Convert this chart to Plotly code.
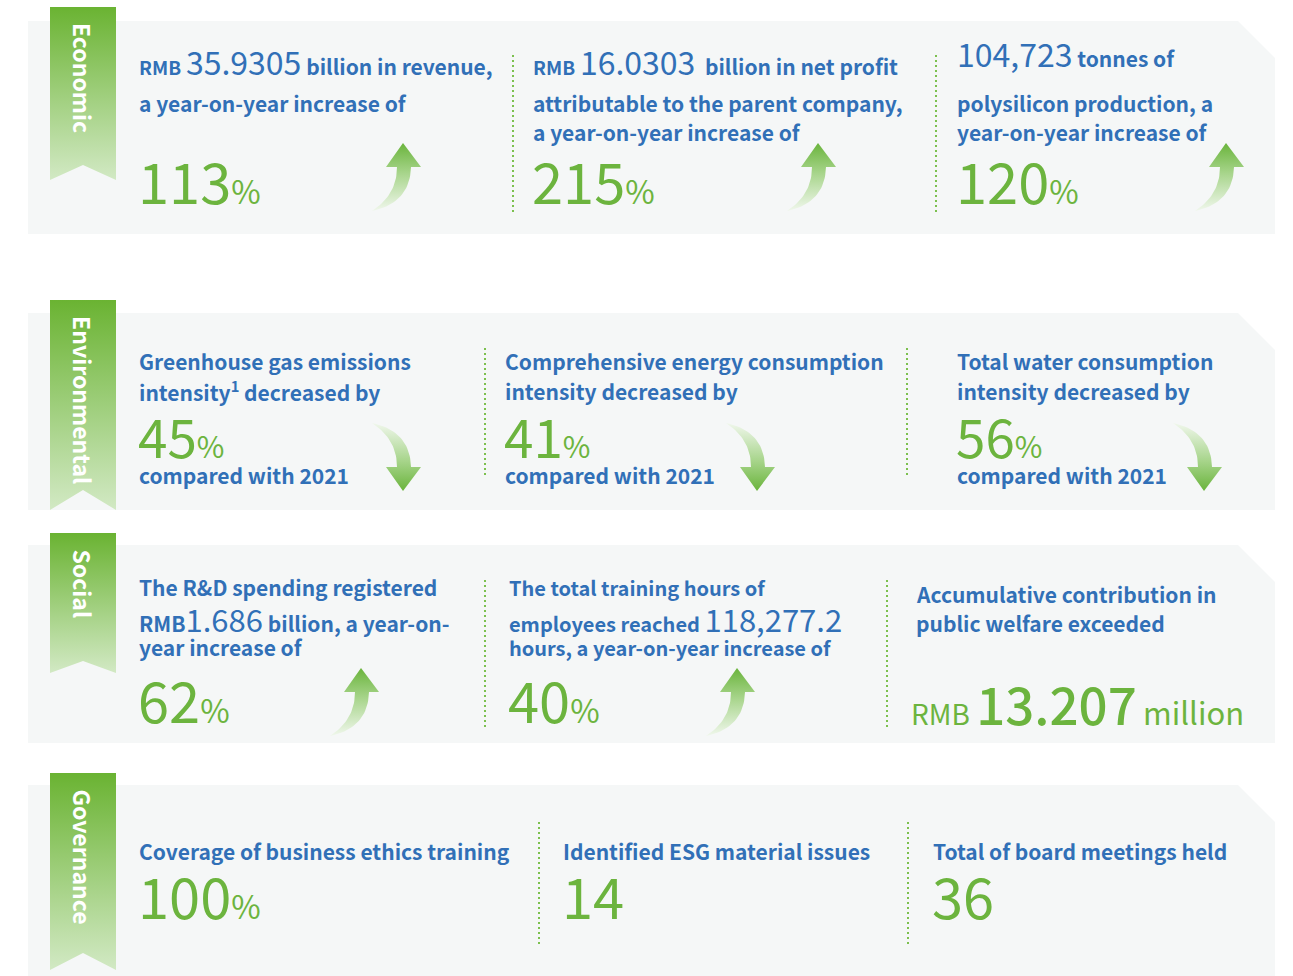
import plotly.graph_objects as go

W, H = 1293, 976
BLUE = "#3170b7"
GREEN = "#6cb43e"
FONT = "Noto Sans CJK SC"

# ---------------- data ----------------
categories = ["Economic", "Environmental", "Social", "Governance"]

econ_amounts = ["35.9305", "16.0303", "104,723"]
econ_growth = ["113", "215", "120"]

env_metrics = ["Greenhouse gas emissions", "Comprehensive energy consumption", "Total water consumption"]
env_decrease = ["45", "41", "56"]
env_baseline_year = "2021"

rd_spending = "1.686"
training_hours = "118,277.2"
social_growth = ["62", "40"]
public_welfare = "13.207"

gov_labels = ["Coverage of business ethics training", "Identified ESG material issues", "Total of board meetings held"]
gov_values = ["100", "14", "36"]
gov_units = ["%", "", ""]

# ---------------- helpers ----------------
fig = go.Figure()
annotations = []


def span(t, size, weight=700, color=None):
    st = f"font-size:{size}px;font-weight:{weight}"
    if color:
        st += f";color:{color}"
    return f'<span style="{st}">{t}</span>'


def line(x, baseline, html, maxsize, color=BLUE, size=21, weight=700):
    annotations.append(dict(
        x=x - 2, y=baseline - 0.436 * maxsize, xref="x", yref="y", text=html,
        showarrow=False, xanchor="left", yanchor="middle", borderpad=0,
        font=dict(family=FONT, size=size, color=color, weight=weight)))


def big(x, baseline, num, unit="%", size=56, usize=32):
    html = span(num, size, 400) + (span(unit, usize, 400) if unit else "")
    line(x - 1, baseline, html, size, color=GREEN, size=size, weight=400)


def poly(xs, ys, color=None, grad=None, top=None, bottom=None):
    kw = dict(x=xs + [xs[0]], y=ys + [ys[0]], mode="lines", line=dict(width=0),
              fill="toself", hoverinfo="skip", showlegend=False)
    if grad:
        kw["fillgradient"] = dict(type="vertical", colorscale=grad, start=top, stop=bottom)
    else:
        kw["fillcolor"] = color
    fig.add_trace(go.Scatter(**kw))


def qbez(p0, p1, p2, n=24):
    pts = []
    for i in range(n + 1):
        t = i / n
        x = (1 - t) ** 2 * p0[0] + 2 * (1 - t) * t * p1[0] + t ** 2 * p2[0]
        y = (1 - t) ** 2 * p0[1] + 2 * (1 - t) * t * p1[1] + t ** 2 * p2[1]
        pts.append((x, y))
    return pts


def arrow(x0, y0, down=False):
    # local shape of an up-curving arrow, 49 x 68
    pts = [(31, 0), (49, 24), (39, 24)]
    pts += qbez((39, 24), (38, 60), (0, 68))[1:]
    pts += qbez((0, 68), (25, 52), (25, 24))[1:]
    pts += [(14, 24)]
    xs = [x0 + p[0] for p in pts]
    if down:
        ys = [y0 + 68 - p[1] for p in pts]
        grad = [[0, "#f0f7ec"], [0.55, "#a8d58c"], [1, "#6ab43c"]]
    else:
        ys = [y0 + p[1] for p in pts]
        grad = [[0, "#6ab43c"], [0.45, "#a8d58c"], [1, "#f0f7ec"]]
    poly(xs, ys, grad=grad, top=y0, bottom=y0 + 68)


def divider(x, y0, y1):
    fig.add_trace(go.Scatter(x=[x, x], y=[y0, y1], mode="lines", hoverinfo="skip",
                             showlegend=False,
                             line=dict(color="#7cc04f", width=2, dash="2px,3px")))


# ---------------- panels & ribbons ----------------
panels = [  # panel top, panel bottom, ribbon top, ribbon bottom, notch
    (21, 234, 7, 180, 165),
    (313, 510, 300, 510, 490),
    (545, 743, 533, 673, 661),
    (785, 990, 773, 970, 953),
]
for cat, (pt, pb, rt, rb, nt) in zip(categories, panels):
    poly([28, 1238, 1275, 1275, 28], [pt, pt, pt + 37, pb, pb], color="#f5f7f7")
    poly([50, 116, 116, 83, 50], [rt, rt, rb, nt, rb],
         grad=[[0, "#6ab332"], [1, "#d2e9c4"]], top=rt, bottom=rb)
    annotations.append(dict(x=83, y=rt + 14, xref="x", yref="y", text=cat, showarrow=False,
                            textangle=90, xanchor="center", yanchor="top",
                            font=dict(family=FONT, size=23, color="white", weight=700)))

# ---------------- Economic ----------------
line(140, 75, span("RMB", 19) + " " + span(econ_amounts[0], 32, 400) + " billion in revenue,", 32)
line(140, 112, "a year-on-year increase of", 21)
big(140, 204, econ_growth[0])
arrow(372, 143)
divider(513, 55, 212)

line(534, 75, span("RMB", 19) + " " + span(econ_amounts[1], 32, 400) + "  billion in net profit", 32)
line(534, 112, "attributable to the parent company,", 21)
line(534, 141, "a year-on-year increase of", 21)
big(534, 204, econ_growth[1])
arrow(787, 143)
divider(936, 55, 212)

line(958, 67, span(econ_amounts[2], 32, 400) + " tonnes of", 32)
line(958, 112, "polysilicon production, a", 21)
line(958, 141, "year-on-year increase of", 21)
big(958, 204, econ_growth[2])
arrow(1195, 143)

# ---------------- Environmental ----------------
env_x = [140, 506, 958]
env_arrow_x = [372, 726, 1173]
for i in range(3):
    x = env_x[i]
    line(x, 370, env_metrics[i], 21)
    second = "intensity" + ("<sup>1</sup>" if i == 0 else "") + " decreased by"
    line(x, 400, second, 21)
    big(x, 458, env_decrease[i], size=53, usize=30)
    line(x, 484, f"compared with {env_baseline_year}", 21)
    arrow(env_arrow_x[i], 423, down=True)
divider(485, 348, 477)
divider(907, 348, 477)

# ---------------- Social ----------------
line(140, 596, "The R&amp;D spending registered", 21)
line(140, 632, "RMB" + span(rd_spending, 31, 400) + " billion, a year-on-", 31)
line(140, 656, "year increase of", 21)
big(140, 723, social_growth[0])
arrow(330, 668)
divider(485, 580, 730)

line(510, 596, "The total training hours of", 20, size=20)
line(510, 632, "employees reached " + span(training_hours, 31, 400), 31, size=20)
line(510, 656, "hours, a year-on-year increase of", 20, size=20)
big(510, 723, social_growth[1])
arrow(706, 668)
divider(887, 580, 730)

line(917, 603, "Accumulative contribution in", 21)
line(917, 632, "public welfare exceeded", 21)
line(912, 725, span("RMB", 28, 400) + " " + span(public_welfare, 51, 500) + " " + span("million", 31, 400),
     51, color=GREEN, size=28, weight=400)

# ---------------- Governance ----------------
gov_x = [140, 564, 934]
for i in range(3):
    line(gov_x[i], 860, gov_labels[i], 21)
    big(gov_x[i], 919, gov_values[i], gov_units[i])
divider(539, 822, 946)
divider(908, 822, 946)

fig.update_layout(
    width=W, height=H, margin=dict(l=0, r=0, t=0, b=0),
    paper_bgcolor="white", plot_bgcolor="white",
    xaxis=dict(range=[0, W], visible=False, fixedrange=True),
    yaxis=dict(range=[H, 0], visible=False, fixedrange=True),
    annotations=annotations, showlegend=False, hovermode=False,
)

fig.write_html("out.html", config={"displayModeBar": False},
               post_script="document.body.style.margin='0';document.body.style.overflow='hidden';")
